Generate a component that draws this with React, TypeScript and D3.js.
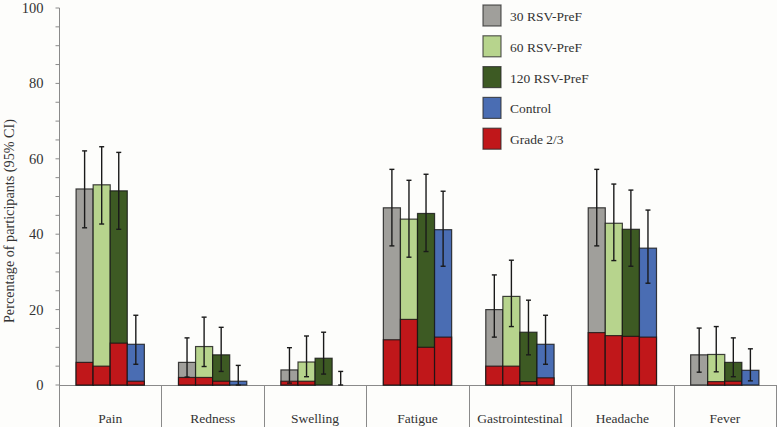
import React from "react";
import * as d3 from "d3";

const categories = ["Pain", "Redness", "Swelling", "Fatigue", "Gastrointestinal", "Headache", "Fever"];
const seriesNames = ["30 RSV-PreF", "60 RSV-PreF", "120 RSV-PreF", "Control"];
const seriesColors = ["#a09f9b", "#b7d48d", "#3d5a23", "#4a6db3"];
const gradeLabel = "Grade 2/3";
const gradeColor = "#c0171a";

// total percentage per series (by category)
const total30 = [52, 6, 4, 47, 20, 47, 8];
const total60 = [53.1, 10.2, 6.1, 44, 23.5, 42.9, 8.1];
const total120 = [51.5, 8, 7.1, 45.5, 14, 41.3, 6];
const totalCtrl = [10.8, 1, 0, 41.2, 10.8, 36.3, 3.9];

// grade 2/3 percentage per series
const grade30 = [6, 2, 1, 12, 5, 13.9, 0];
const grade60 = [5, 2, 1, 17.4, 5, 13.1, 0.9];
const grade120 = [11.1, 1, 0, 10, 0.9, 12.9, 1];
const gradeCtrl = [1, 0, 0, 12.7, 1.9, 12.7, 0];

// 95% CI upper / lower
const upper30 = [62.1, 12.5, 9.9, 57.2, 29.2, 57.2, 15.1];
const lower30 = [41.7, 2.1, 0.5, 36.9, 12.7, 36.9, 3.4];
const upper60 = [63.2, 18, 13, 54.3, 33.1, 53.3, 15.5];
const lower60 = [42.7, 4.9, 2.2, 33.9, 15.5, 33, 3.5];
const upper120 = [61.7, 15.3, 14, 55.9, 22.5, 51.7, 12.5];
const lower120 = [41.3, 3.6, 2.9, 35.4, 8, 31.5, 2.2];
const upperCtrl = [18.5, 5.2, 3.6, 51.4, 18.5, 46.4, 9.6];
const lowerCtrl = [5.5, 0, 0, 31.5, 5.5, 27, 1.1];

const yTickLabels = [0, 20, 40, 60, 80, 100];

const totals = [total30, total60, total120, totalCtrl];
const grades = [grade30, grade60, grade120, gradeCtrl];
const uppers = [upper30, upper60, upper120, upperCtrl];
const lowers = [lower30, lower60, lower120, lowerCtrl];

const W = 777;
const H = 427;
const FONT = "Liberation Serif";

export default function App() {
  const x = d3.scaleBand<string>().domain(categories).range([59, 776]).padding(0);
  const xs = d3
    .scaleBand<string>()
    .domain(seriesNames)
    .range([0, x.bandwidth()])
    .paddingInner(0)
    .paddingOuter(1);
  const y = d3.scaleLinear().domain([0, 100]).range([385, 8]);
  const minor = d3.range(0, 101, 5);
  const bw = xs.bandwidth();
  const cap = 2.5;
  const barStroke = "rgba(20,20,20,0.8)";
  const ts = { fontFamily: FONT };

  const legendItems = [
    ...seriesNames.map((n, i) => ({ name: n, color: seriesColors[i] })),
    { name: gradeLabel, color: gradeColor },
  ];

  return (
    <svg
      width={W}
      height={H}
      style={{ position: "absolute", left: 0, top: 0, background: "#fdfdfb" }}
    >
      <rect x={0} y={0} width={W} height={H} fill="#fdfdfb" />
      {/* y axis */}
      <line x1={59.5} x2={59.5} y1={y(100)} y2={H} stroke="#8a8a8a" strokeWidth={1} />
      {minor.map((v) => (
        <line key={v} x1={55.5} x2={59.5} y1={y(v)} y2={y(v)} stroke="#8a8a8a" strokeWidth={1} />
      ))}
      {yTickLabels.map((v) => (
        <text key={v} x={43.5} y={y(v) + 5} textAnchor="end" fontSize={14.5} fill="#333" style={ts}>
          {v}
        </text>
      ))}
      <text
        transform={`translate(13.5,221) rotate(-90)`}
        textAnchor="middle"
        fontSize={14.2}
        fill="#333"
        style={ts}
      >
        Percentage of participants (95% CI)
      </text>
      {/* x axis */}
      <line x1={59} x2={776} y1={385.5} y2={385.5} stroke="#8a8a8a" strokeWidth={1} />
      {categories.map((c) => (
        <g key={c}>
          <line
            x1={Math.round((x(c) as number) + x.bandwidth()) + 0.5}
            x2={Math.round((x(c) as number) + x.bandwidth()) + 0.5}
            y1={385}
            y2={H}
            stroke="#8a8a8a"
            strokeWidth={1}
          />
          <text
            x={(x(c) as number) + x.bandwidth() / 2}
            y={422.5}
            textAnchor="middle"
            fontSize={13.5}
            fill="#333"
            style={ts}
          >
            {c}
          </text>
        </g>
      ))}
      {/* bars */}
      {categories.map((c, ci) => (
        <g key={c}>
          {seriesNames.map((s, si) => {
            const bx = (x(c) as number) + (xs(s) as number);
            const tv = totals[si][ci];
            const gv = grades[si][ci];
            return (
              <g key={s}>
                {tv > 0 && (
                  <rect
                    x={bx}
                    y={y(tv)}
                    width={bw}
                    height={y(0) - y(tv)}
                    fill={seriesColors[si]}
                    stroke={barStroke}
                    strokeWidth={1.2}
                  />
                )}
                {gv > 0 && (
                  <rect
                    x={bx}
                    y={y(gv)}
                    width={bw}
                    height={y(0) - y(gv)}
                    fill={gradeColor}
                    stroke={barStroke}
                    strokeWidth={1.2}
                  />
                )}
              </g>
            );
          })}
        </g>
      ))}
      {/* error bars */}
      {categories.map((c, ci) => (
        <g key={c}>
          {seriesNames.map((s, si) => {
            const cx = (x(c) as number) + (xs(s) as number) + bw / 2;
            const u = uppers[si][ci];
            const l = lowers[si][ci];
            return (
              <g key={s} stroke="#1a1a1a" strokeWidth={1.4}>
                <line x1={cx} x2={cx} y1={y(u)} y2={y(l)} />
                <line x1={cx - cap} x2={cx + cap} y1={y(u)} y2={y(u)} />
                <line x1={cx - cap} x2={cx + cap} y1={y(l)} y2={y(l)} />
              </g>
            );
          })}
        </g>
      ))}
      {/* legend */}
      {legendItems.map((it, i) => (
        <g key={it.name} transform={`translate(483,${5 + i * 30.8})`}>
          <rect x={0} y={0} width={18} height={21} fill={it.color} stroke="rgba(40,40,40,0.75)" strokeWidth={1.2} />
          <text x={27} y={16} fontSize={13.5} fill="#333" style={ts}>
            {it.name}
          </text>
        </g>
      ))}
    </svg>
  );
}
